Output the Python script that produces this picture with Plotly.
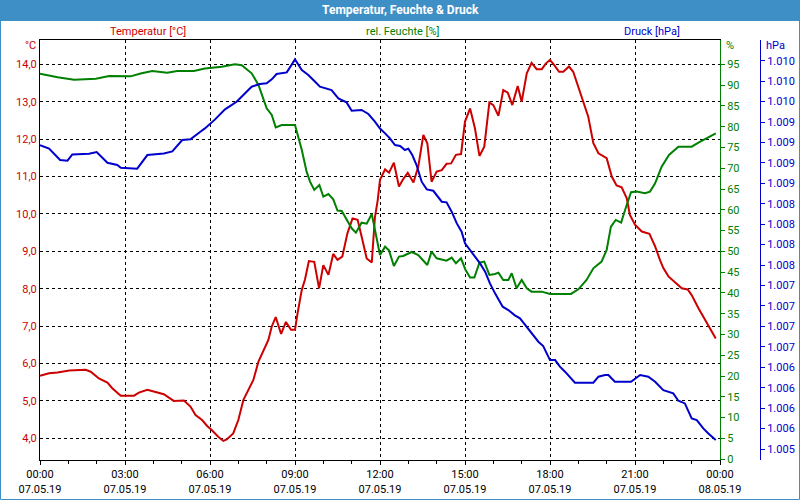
import pandas as pd
import plotly.graph_objects as go

# readings taken from the chart, hours after 07.05.19 00:00
temp_hours = [0, 0.32, 0.62, 1.03, 1.61, 1.79, 2.08, 2.38, 2.55, 2.85, 3.32, 3.49, 3.79, 4.08, 4.37,
              4.72, 5.08, 5.31, 5.49, 5.72, 5.9, 6.06, 6.29, 6.47, 6.59, 6.82, 7.0, 7.18, 7.35, 7.53,
              7.71, 7.88, 8.06, 8.18, 8.32, 8.51, 8.68, 8.86, 9.0, 9.09, 9.24, 9.35, 9.49, 9.68, 9.85,
              10.0, 10.18, 10.35, 10.5, 10.67, 10.85, 11.03, 11.21, 11.38, 11.53, 11.71, 11.82, 11.92,
              12.0, 12.18, 12.32, 12.49, 12.67, 12.82, 12.98, 13.18, 13.35, 13.53, 13.67, 13.82, 14.0,
              14.18, 14.35, 14.51, 14.68, 14.86, 15.0, 15.18, 15.35, 15.51, 15.68, 15.86, 16.0, 16.18,
              16.35, 16.51, 16.67, 16.86, 17.0, 17.18, 17.35, 17.53, 17.71, 17.85, 18.0, 18.15, 18.32,
              18.47, 18.67, 18.82, 19.0, 19.18, 19.35, 19.53, 19.71, 20.0, 20.18, 20.35, 20.53, 20.71,
              20.82, 21.0, 21.24, 21.51, 21.71, 21.88, 22.0, 22.18, 22.41, 22.65, 22.86, 23.0, 23.24,
              23.41, 23.59, 23.71, 23.85]
temperature = [5.67, 5.74, 5.76, 5.81, 5.83, 5.78, 5.60, 5.49, 5.34, 5.14, 5.14, 5.22, 5.30, 5.25, 5.18,
               5.00, 5.01, 4.85, 4.62, 4.49, 4.33, 4.22, 4.04, 3.93, 3.97, 4.13, 4.49, 5.03, 5.29, 5.56,
               6.05, 6.32, 6.63, 6.99, 7.24, 6.79, 7.11, 6.90, 6.90, 7.34, 7.97, 8.24, 8.74, 8.72, 8.01,
               8.63, 8.37, 8.93, 8.77, 8.86, 9.48, 9.88, 9.84, 9.30, 8.81, 8.70, 9.90, 10.37,
               10.91, 11.19, 11.10, 11.37, 10.73, 10.93, 11.10, 10.84, 11.26, 12.11, 11.89, 10.86, 11.13,
               11.17, 11.34, 11.35, 11.58, 11.60, 12.47, 12.82, 12.29, 11.55, 11.80, 12.98, 12.91, 12.62,
               13.31, 13.24, 12.91, 13.42, 13.00, 13.76, 14.04, 13.87, 13.87, 14.02, 14.12, 13.98, 13.80,
               13.80, 13.94, 13.80, 13.40, 12.96, 12.60, 11.89, 11.62, 11.49, 11.00, 10.76, 10.71, 10.42,
               9.97, 9.71, 9.53, 9.47, 9.13, 8.77, 8.55, 8.33, 8.17, 8.01, 7.98, 7.83, 7.48,
               7.25, 7.00, 6.85, 6.67]

hum_hours = [0, 0.62, 1.2, 1.97, 2.44, 3.2, 3.55, 3.96, 4.49, 4.84, 5.43, 5.82, 6.41, 6.88, 7.12, 7.47,
             7.71, 8.0, 8.18, 8.32, 8.53, 9.0, 9.24, 9.41, 9.53, 9.68, 9.86, 10.0, 10.18, 10.35, 10.5,
             10.65, 11.0, 11.15, 11.35, 11.53, 11.71, 11.82, 12.0, 12.18, 12.32, 12.49, 12.67, 12.82,
             13.12, 13.35, 13.67, 13.82, 14.0, 14.35, 14.53, 14.68, 14.86, 15.02, 15.18, 15.33, 15.51,
             15.68, 15.86, 16.06, 16.18, 16.35, 16.53, 16.65, 16.82, 17.0, 17.18, 17.35, 17.71, 18.0,
             18.74, 19.0, 19.29, 19.53, 19.82, 20.0, 20.15, 20.32, 20.51, 20.65, 20.86, 21.06, 21.35,
             21.53, 21.71, 21.94, 22.2, 22.53, 23.0, 23.24, 23.59, 23.85]
humidity = [92.75, 91.87, 91.3, 91.55, 92.2, 92.1, 92.8, 93.4, 93.0, 93.4, 93.4, 94.0, 94.44, 95.0, 94.76,
            92.83, 90.03, 84.41, 82.81, 79.84, 80.4, 80.4, 74.39, 69.18, 66.77, 64.77, 65.97, 63.16,
            63.8, 62.52, 59.8, 59.72, 55.55, 54.5, 56.9, 56.67, 58.99, 55.5, 49.13, 51.14, 50.17, 46.48,
            48.73, 48.89, 49.85, 49.13, 46.72, 49.93, 48.33, 47.77, 48.49, 47.12, 48.33, 45.52, 43.68,
            43.68, 47.28, 47.53, 44.32, 44.56, 44.88, 43.11, 43.11, 44.72, 41.11, 43.11, 41.11, 40.31,
            40.31, 39.75, 39.75, 40.87, 43.11, 45.92, 47.53, 50.33, 55.95, 57.55, 56.91, 59.96, 64.21,
            64.37, 63.97, 64.37, 66.37, 70.38, 73.19, 75.19, 75.19, 76.16, 77.36, 78.4]

press_hours = [0, 0.32, 0.71, 0.97, 1.14, 1.73, 2.0, 2.38, 2.73, 2.85, 3.43, 3.79, 4.37, 4.67, 5.02,
               5.31, 5.66, 5.82, 6.18, 6.53, 6.94, 7.12, 7.47, 7.76, 8.0, 8.18, 8.35, 8.71, 8.88, 9.0,
               9.24, 9.47, 9.71, 9.88, 10.29, 10.53, 10.82, 11.0, 11.35, 11.59, 11.82, 12.0, 12.18,
               12.35, 12.53, 12.71, 12.88, 13.0, 13.14, 13.29, 13.47, 13.65, 13.88, 14.18, 14.35, 14.53,
               14.71, 14.88, 15.0, 15.18, 15.35, 15.53, 15.71, 15.88, 16.06, 16.33, 16.53, 16.76, 16.94,
               17.12, 17.35, 17.59, 17.76, 18.0, 18.18, 18.35, 18.53, 18.88, 19.53, 19.71, 19.94, 20.06,
               20.29, 20.86, 21.18, 21.47, 21.71, 22.0, 22.35, 22.53, 22.76, 23.0, 23.18, 23.41, 23.59,
               23.85]
pressure = [1008.968, 1008.924, 1008.785, 1008.777, 1008.854, 1008.862, 1008.883, 1008.752, 1008.724,
            1008.691, 1008.679, 1008.846, 1008.866, 1008.891, 1009.030, 1009.038, 1009.131, 1009.172,
            1009.282, 1009.405, 1009.498, 1009.560, 1009.682, 1009.715, 1009.723, 1009.772, 1009.837,
            1009.857, 1009.947, 1010.016, 1009.886, 1009.825, 1009.743, 1009.682, 1009.641, 1009.539,
            1009.490, 1009.388, 1009.397, 1009.348, 1009.254, 1009.170, 1009.111, 1009.050, 1008.968,
            1008.956, 1008.907, 1008.924, 1008.846, 1008.724, 1008.520, 1008.426, 1008.409, 1008.275,
            1008.267, 1008.153, 1008.010, 1007.908, 1007.766, 1007.684, 1007.602, 1007.521, 1007.419,
            1007.276, 1007.154, 1006.991, 1006.950, 1006.885, 1006.848, 1006.767, 1006.665, 1006.563,
            1006.510, 1006.338, 1006.338, 1006.257, 1006.196, 1006.061, 1006.061, 1006.135, 1006.155,
            1006.155, 1006.073, 1006.073, 1006.155, 1006.135, 1006.073, 1005.971, 1005.931, 1005.841,
            1005.808, 1005.625, 1005.605, 1005.502, 1005.441, 1005.360]

# axis ticks
temp_ticks = [4, 5, 6, 7, 8, 9, 10, 11, 12, 13, 14]
hum_ticks = [0, 5, 10, 15, 20, 25, 30, 35, 40, 45, 50, 55, 60, 65, 70, 75, 80, 85, 90, 95]
press_ticks = [1005.25, 1005.5, 1005.75, 1006.0, 1006.25, 1006.5, 1006.75, 1007.0, 1007.25, 1007.5,
               1007.75, 1008.0, 1008.25, 1008.5, 1008.75, 1009.0, 1009.25, 1009.5, 1009.75, 1010.0]

start = pd.Timestamp("2019-05-07 00:00")
def to_time(hours):
    return [start + pd.Timedelta(hours=h) for h in hours]

RED = "#cc0000"
GREEN = "#008000"
BLUE = "#0000cc"
FONT = "Roboto"

fig = go.Figure()
fig.add_trace(go.Scatter(x=to_time(temp_hours), y=temperature, mode="lines",
                         line=dict(color=RED, width=2), yaxis="y"))
fig.add_trace(go.Scatter(x=to_time(hum_hours), y=humidity, mode="lines",
                         line=dict(color=GREEN, width=2), yaxis="y2"))
fig.add_trace(go.Scatter(x=to_time(press_hours), y=pressure, mode="lines",
                         line=dict(color=BLUE, width=2), yaxis="y3"))

# paper spans pixel 40..765 horizontally, 40..460 vertically
W = 725.0
def px(x):
    return (x - 40) / W
def py(y):
    return (460 - y) / 420.0

fig.update_layout(
    width=800, height=500,
    margin=dict(l=40, r=35, t=40, b=40),
    paper_bgcolor="white", plot_bgcolor="white",
    separators=",.",
    showlegend=False,
    font=dict(family=FONT, size=11),
    xaxis=dict(domain=[0, 680 / W], type="date", automargin=False,
               range=["2019-05-07 00:00", "2019-05-08 00:00"],
               tick0="2019-05-07", dtick=3 * 3600000, tickformat="%H:%M<br>%d.%m.%y",
               showgrid=True, gridcolor="black", griddash="3px,3px", gridwidth=1,
               showline=True, linecolor="black", linewidth=1, mirror=True,
               ticks="outside", ticklen=4, tickcolor="black",
               minor=dict(dtick=3600000, ticks="outside", ticklen=3, tickcolor="black", showgrid=False),
               tickfont=dict(color="black", size=11), zeroline=False),
    yaxis=dict(range=[3.42, 14.65], tickvals=temp_ticks, tickformat=".1f", automargin=False,
               showgrid=True, gridcolor="black", griddash="3px,3px", gridwidth=1,
               showline=True, linecolor="black", linewidth=1, ticks="",
               tickfont=dict(color=RED, size=11), zeroline=False),
    yaxis2=dict(overlaying="y", side="right", anchor="x", range=[-0.2, 100.85], automargin=False,
                tickvals=hum_ticks, showgrid=False, zeroline=False,
                showline=True, linecolor=GREEN, linewidth=1,
                ticks="outside", ticklen=4, tickcolor=GREEN,
                tickfont=dict(color=GREEN, size=11)),
    yaxis3=dict(overlaying="y", side="right", anchor="free", position=px(760), automargin=False,
                range=[1005.116, 1010.253], tickvals=press_ticks, tickformat=",.0f",
                showgrid=False, zeroline=False,
                showline=True, linecolor=BLUE, linewidth=1,
                ticks="outside", ticklen=4, tickcolor=BLUE,
                tickfont=dict(color=BLUE, size=11)),
)

# title band and frame
fig.add_shape(type="rect", xref="paper", yref="paper", x0=px(0), x1=px(800), y0=py(21), y1=py(0),
              fillcolor="#3d8fc6", line_width=0, layer="below")
fig.add_shape(type="rect", xref="paper", yref="paper", x0=px(0.5), x1=px(799.5), y0=py(499.5), y1=py(0.5),
              line=dict(color="#3d8fc6", width=1))

def label(text, x, y, color, anchor="center", size=11):
    fig.add_annotation(text=text, xref="paper", yref="paper", x=px(x), y=py(y),
                       xanchor=anchor, yanchor="middle", showarrow=False,
                       font=dict(color=color, size=size))

label("<b>Temperatur, Feuchte & Druck</b>", 400, 10, "white", size=12)
label("Temperatur [°C]", 148, 31, RED)
label("rel. Feuchte [%]", 403, 31, GREEN)
label("Druck [hPa]", 652, 31, BLUE)
label("°C", 38, 46, RED, anchor="right")
label("%", 724, 46, GREEN, anchor="left")
label("hPa", 764, 46, BLUE, anchor="left")

# page has a default body margin; drop it so the 800x500 figure sits at the window origin
fig.write_html("out.html", config={"displayModeBar": False},
               post_script="document.body.style.margin='0';document.body.style.overflow='hidden';")
